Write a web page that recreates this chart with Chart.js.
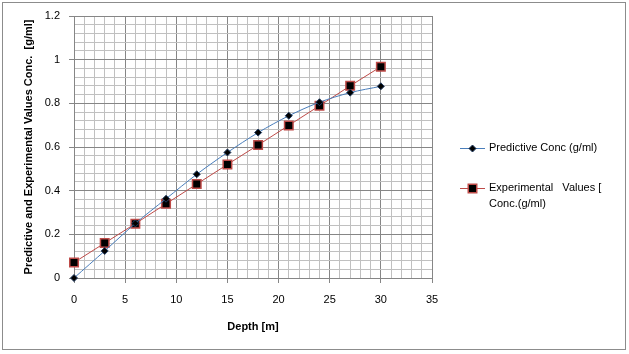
<!DOCTYPE html>
<html>
<head>
<meta charset="utf-8">
<script src="https://cdn.jsdelivr.net/npm/chart.js@4/dist/chart.umd.min.js"></script>
<style>
  html, body { margin: 0; padding: 0; background: #fff; }
  #wrap { width: 629px; height: 354px; position: relative; }
</style>
</head>
<body>
<div id="wrap"><canvas id="c" width="629" height="354"></canvas></div>
<script>
// ---- data ----
const depth = [0, 3, 6, 9, 12, 15, 18, 21, 24, 27, 30];
const predictive = [0, 0.124, 0.25, 0.363, 0.475, 0.575, 0.666, 0.743, 0.805, 0.849, 0.878];
const experimental = [0.071, 0.16, 0.249, 0.34, 0.43, 0.52, 0.609, 0.699, 0.789, 0.88, 0.968];
const seriesNames = ["Predictive Conc (g/ml)", "Experimental  Values [ Conc.(g/ml)"];
const legendLines = [["Predictive Conc (g/ml)"], ["Experimental   Values [", "Conc.(g/ml)"]];
const xTitle = "Depth [m]";
const yTitle = "Predictive and Experimental Values Conc.  [g/ml]";

const FONT = "'Liberation Sans', Arial, sans-serif";
const MAJOR = '#868686';
const MINOR = '#c0c0c0';
const BLUE = '#4a7ebb';
const RED = '#be4b48';

const toPts = (xs, ys) => xs.map((x, i) => ({ x: x, y: ys[i] }));
const isMajorY = v => Math.abs(v / 0.2 - Math.round(v / 0.2)) < 1e-6;

const bgPlugin = {
  id: 'bg',
  beforeDraw(chart) {
    const ctx = chart.ctx;
    ctx.save();
    ctx.fillStyle = '#fff';
    ctx.fillRect(0, 0, chart.width, chart.height);
    ctx.strokeStyle = '#8c8c8c';
    ctx.lineWidth = 1;
    ctx.strokeRect(2.5, 2.5, 623, 347);
    ctx.restore();
  }
};

const legendPlugin = {
  id: 'customLegend',
  afterDraw(chart) {
    const ctx = chart.ctx;
    ctx.save();
    const rows = [148, 188];
    const cx = 472.5;
    chart.data.datasets.forEach((ds, i) => {
      const y = rows[i] + 0.5;
      ctx.strokeStyle = ds.borderColor;
      ctx.lineWidth = 1;
      ctx.beginPath();
      ctx.moveTo(460, y);
      ctx.lineTo(485, y);
      ctx.stroke();
      ctx.fillStyle = ds.pointBackgroundColor;
      ctx.strokeStyle = ds.pointBorderColor;
      ctx.lineWidth = ds.pointBorderWidth;
      ctx.beginPath();
      if (ds.pointStyle === 'rect') {
        const s = Math.SQRT1_2 * ds.pointRadius;
        ctx.rect(cx - s, y - s, 2 * s, 2 * s);
      } else {
        const r = ds.pointRadius;
        ctx.moveTo(cx, y - r);
        ctx.lineTo(cx + r, y);
        ctx.lineTo(cx, y + r);
        ctx.lineTo(cx - r, y);
        ctx.closePath();
      }
      ctx.fill();
      ctx.stroke();
      ctx.fillStyle = '#000';
      ctx.font = '11px ' + FONT;
      ctx.textBaseline = 'middle';
      ctx.textAlign = 'left';
      legendLines[i].forEach((t, k) => {
        ctx.fillText(t, 489, rows[i] + k * 16);
      });
    });
    ctx.restore();
  }
};

new Chart(document.getElementById('c'), {
  type: 'line',
  data: {
    datasets: [
      {
        label: seriesNames[0],
        data: toPts(depth, predictive),
        borderColor: BLUE,
        borderWidth: 1,
        tension: 0.3,
        pointStyle: 'rectRot',
        pointRadius: 3.5,
        pointBackgroundColor: '#000',
        pointBorderColor: '#1f3a5f',
        pointBorderWidth: 1,
        clip: false
      },
      {
        label: seriesNames[1],
        data: toPts(depth, experimental),
        borderColor: RED,
        borderWidth: 1,
        tension: 0,
        pointStyle: 'rect',
        pointRadius: 6,
        pointBackgroundColor: '#000',
        pointBorderColor: RED,
        pointBorderWidth: 1.5,
        clip: false
      }
    ]
  },
  plugins: [bgPlugin, legendPlugin],
  options: {
    responsive: false,
    animation: false,
    devicePixelRatio: 1,
    layout: { padding: { left: 14, top: 16, right: 197, bottom: 0 } },
    plugins: { legend: { display: false }, tooltip: { enabled: false } },
    scales: {
      x: {
        type: 'linear',
        min: 0, max: 35,
        afterFit(s) { s.height = 76; },
        border: { color: MAJOR, width: 1 },
        grid: {
          color: c => (c.tick && c.tick.value % 5 === 0) ? MAJOR : MINOR,
          tickColor: c => (c.tick && c.tick.value % 5 === 0) ? MAJOR : 'rgba(0,0,0,0)',
          tickLength: 5,
          lineWidth: 1
        },
        ticks: {
          stepSize: 1,
          autoSkip: false,
          maxRotation: 0,
          padding: 10,
          color: '#000',
          font: { family: FONT, size: 11 },
          callback: v => (v % 5 === 0 ? String(v) : '')
        },
        title: {
          display: true,
          text: xTitle,
          color: '#000',
          font: { family: FONT, size: 11, weight: 'bold' },
          padding: { top: 0, bottom: 20 }
        }
      },
      y: {
        type: 'linear',
        min: 0, max: 1.2,
        afterFit(s) { s.width = 60; },
        border: { color: MAJOR, width: 1 },
        grid: {
          color: c => (c.tick && isMajorY(c.tick.value)) ? MAJOR : MINOR,
          tickColor: c => (c.tick && isMajorY(c.tick.value)) ? MAJOR : 'rgba(0,0,0,0)',
          tickLength: 5,
          lineWidth: 1
        },
        ticks: {
          stepSize: 0.04,
          autoSkip: false,
          padding: 9,
          color: '#000',
          font: { family: FONT, size: 11 },
          callback: v => isMajorY(v) ? String(Number((Math.round(v / 0.2) * 0.2).toFixed(1))) : ''
        },
        title: {
          display: true,
          text: yTitle,
          color: '#000',
          font: { family: FONT, size: 11, weight: 'bold' },
          padding: { top: 8, bottom: 0 }
        }
      }
    }
  }
});
</script>
</body>
</html>
